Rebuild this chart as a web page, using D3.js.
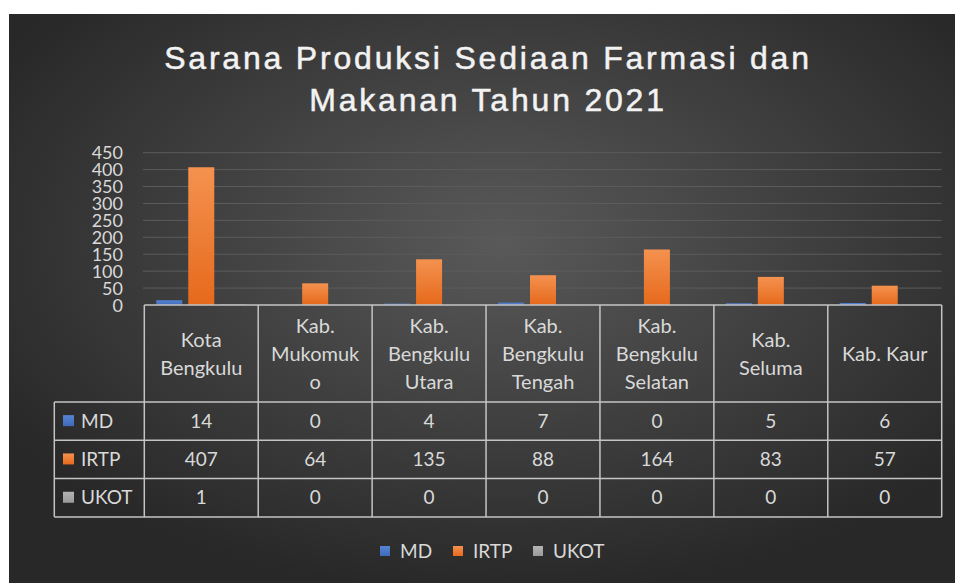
<!DOCTYPE html>
<html>
<head>
<meta charset="utf-8">
<script src="https://cdn.jsdelivr.net/npm/d3@7"></script>
<style>
  html, body { margin: 0; padding: 0; background: #ffffff; }
  svg { display: block; }
</style>
</head>
<body>
<svg id="chart" width="955" height="583"></svg>
<script>
// chart data
var categories = ['Kota Bengkulu', 'Kab. Mukomuko', 'Kab. Bengkulu Utara', 'Kab. Bengkulu Tengah',
                  'Kab. Bengkulu Selatan', 'Kab. Seluma', 'Kab. Kaur'];
var headerLines = [['Kota', 'Bengkulu'], ['Kab.', 'Mukomuk', 'o'], ['Kab.', 'Bengkulu', 'Utara'],
                   ['Kab.', 'Bengkulu', 'Tengah'], ['Kab.', 'Bengkulu', 'Selatan'], ['Kab.', 'Seluma'], ['Kab. Kaur']];
var seriesNames = ['MD', 'IRTP', 'UKOT'];
var mdValues = [14, 0, 4, 7, 0, 5, 6];
var irtpValues = [407, 64, 135, 88, 164, 83, 57];
var ukotValues = [1, 0, 0, 0, 0, 0, 0];
var yTicks = [0, 50, 100, 150, 200, 250, 300, 350, 400, 450];
var titleLines = ['Sarana Produksi Sediaan Farmasi dan', 'Makanan Tahun 2021'];

var seriesValues = [mdValues, irtpValues, ukotValues];
var colors = { MD: ['#5585d6', '#3f69b8'], IRTP: ['#f4924f', '#e6691c'], UKOT: ['#b4b4b4', '#9a9a9a'] };
var font = 'Lato, "Open Sans", sans-serif';

var svg = d3.select('#chart');
var defs = svg.append('defs');

var bg = defs.append('radialGradient').attr('id', 'bg')
  .attr('cx', '0.52').attr('cy', '0.4').attr('r', '0.62');
bg.append('stop').attr('offset', '0').attr('stop-color', '#595959');
bg.append('stop').attr('offset', '1').attr('stop-color', '#282828');

seriesNames.forEach(function(s) {
  var g = defs.append('linearGradient').attr('id', 'grad-' + s)
    .attr('x1', 0).attr('y1', 0).attr('x2', 0).attr('y2', 1);
  g.append('stop').attr('offset', '0').attr('stop-color', colors[s][0]);
  g.append('stop').attr('offset', '1').attr('stop-color', colors[s][1]);
});

svg.append('rect').attr('x', 9).attr('y', 14).attr('width', 946).attr('height', 569)
  .attr('fill', 'url(#bg)');

// title
svg.append('g').selectAll('text').data(titleLines).join('text')
  .attr('x', 488).attr('y', function(d, i) { return 69 + i * 42; })
  .attr('text-anchor', 'middle')
  .attr('font-family', '"Liberation Sans", Arial, sans-serif')
  .attr('font-size', 32)
  .attr('letter-spacing', 2.8)
  .attr('fill', '#f2f2f2')
  .attr('stroke', '#f2f2f2').attr('stroke-width', 0.5)
  .text(function(d) { return d; });

// scales
var x = d3.scaleBand().domain(categories).range([144.3, 941.7]).paddingInner(0).paddingOuter(0);
var xs = d3.scaleBand().domain(seriesNames).range([0, x.bandwidth()]).paddingInner(0.1875).paddingOuter(0.373);
var y = d3.scaleLinear().domain([0, 450]).range([305, 152.7]);

// gridlines
svg.append('g').selectAll('line').data(yTicks.slice(1)).join('line')
  .attr('x1', 143).attr('x2', 941.7)
  .attr('y1', function(d) { return y(d); }).attr('y2', function(d) { return y(d); })
  .attr('stroke', '#5c5c5c').attr('stroke-width', 1);

// y axis labels
var yAxis = d3.axisLeft(y).tickValues(yTicks).tickSize(0).tickPadding(0);
var yg = svg.append('g').attr('transform', 'translate(123,0)').call(yAxis);
yg.select('.domain').remove();
yg.selectAll('text').attr('font-family', font).attr('font-size', 18).attr('fill', '#d9d9d9')
  .attr('dy', '0.34em');

// bars
var cat = svg.append('g').selectAll('g').data(categories).join('g')
  .attr('transform', function(d) { return 'translate(' + x(d) + ',0)'; });
cat.selectAll('rect').data(function(d, ci) {
    return seriesNames.map(function(s, si) { return { s: s, v: seriesValues[si][ci] }; });
  }).join('rect')
  .attr('x', function(d) { return xs(d.s); })
  .attr('width', xs.bandwidth())
  .attr('y', function(d) { return y(d.v); })
  .attr('height', function(d) { return y(0) - y(d.v); })
  .attr('fill', function(d) { return 'url(#grad-' + d.s + ')'; });

// data table
var tableTop = 305, headerBottom = 402, rowH = 38.3, keyLeft = 54.3;
var rowY = seriesNames.map(function(s, i) { return headerBottom + i * rowH; });
var tableBottom = headerBottom + seriesNames.length * rowH;
var lineColor = '#c4c4c4';
var tbl = svg.append('g');

// horizontal lines
tbl.append('line').attr('x1', 144.3).attr('x2', 941.7).attr('y1', tableTop).attr('y2', tableTop)
  .attr('stroke', lineColor).attr('stroke-width', 1.5);
tbl.selectAll('line.h').data(rowY.concat([tableBottom])).join('line').attr('class', 'h')
  .attr('x1', keyLeft).attr('x2', 941.7)
  .attr('y1', function(d) { return d; }).attr('y2', function(d) { return d; })
  .attr('stroke', lineColor).attr('stroke-width', 1.5);
// vertical lines
tbl.selectAll('line.v').data(categories).join('line').attr('class', 'v')
  .attr('x1', function(d) { return x(d); }).attr('x2', function(d) { return x(d); })
  .attr('y1', tableTop).attr('y2', tableBottom)
  .attr('stroke', lineColor).attr('stroke-width', 1.5);
tbl.append('line').attr('x1', 941.7).attr('x2', 941.7).attr('y1', tableTop).attr('y2', tableBottom)
  .attr('stroke', lineColor).attr('stroke-width', 1.5);
tbl.append('line').attr('x1', keyLeft).attr('x2', keyLeft).attr('y1', headerBottom).attr('y2', tableBottom)
  .attr('stroke', lineColor).attr('stroke-width', 1.5);

// header text
var headerMid = (tableTop + headerBottom) / 2;
categories.forEach(function(c, ci) {
  var lines = headerLines[ci];
  tbl.append('g').selectAll('text').data(lines).join('text')
    .attr('x', x(c) + x.bandwidth() / 2)
    .attr('y', function(d, i) { return headerMid + (i - (lines.length - 1) / 2) * 28; })
    .attr('dy', '0.35em')
    .attr('text-anchor', 'middle')
    .attr('font-family', font).attr('font-size', 20).attr('fill', '#d9d9d9')
    .text(function(d) { return d; });
});

// values
seriesNames.forEach(function(s, si) {
  tbl.append('g').selectAll('text').data(seriesValues[si]).join('text')
    .attr('x', function(d, ci) { return x(categories[ci]) + x.bandwidth() / 2; })
    .attr('y', rowY[si] + rowH / 2)
    .attr('dy', '0.35em')
    .attr('text-anchor', 'middle')
    .attr('font-family', font).attr('font-size', 19).attr('fill', '#d9d9d9')
    .text(function(d) { return d; });
  // legend key in table
  tbl.append('rect').attr('x', 63).attr('y', rowY[si] + rowH / 2 - 6).attr('width', 11).attr('height', 11)
    .attr('fill', 'url(#grad-' + s + ')');
  tbl.append('text').attr('x', 81).attr('y', rowY[si] + rowH / 2).attr('dy', '0.35em')
    .attr('font-family', font).attr('font-size', 19).attr('fill', '#d9d9d9')
    .text(s);
});

// bottom legend
var legendX = [380, 453, 533];
var legend = svg.append('g').selectAll('g').data(seriesNames).join('g')
  .attr('transform', function(d, i) { return 'translate(' + legendX[i] + ',551)'; });
legend.append('rect').attr('x', 0).attr('y', -5).attr('width', 10).attr('height', 10)
  .attr('fill', function(d) { return 'url(#grad-' + d + ')'; });
legend.append('text').attr('x', 20).attr('dy', '0.35em')
  .attr('font-family', font).attr('font-size', 19).attr('fill', '#d9d9d9')
  .text(function(d) { return d; });
</script>
</body>
</html>
